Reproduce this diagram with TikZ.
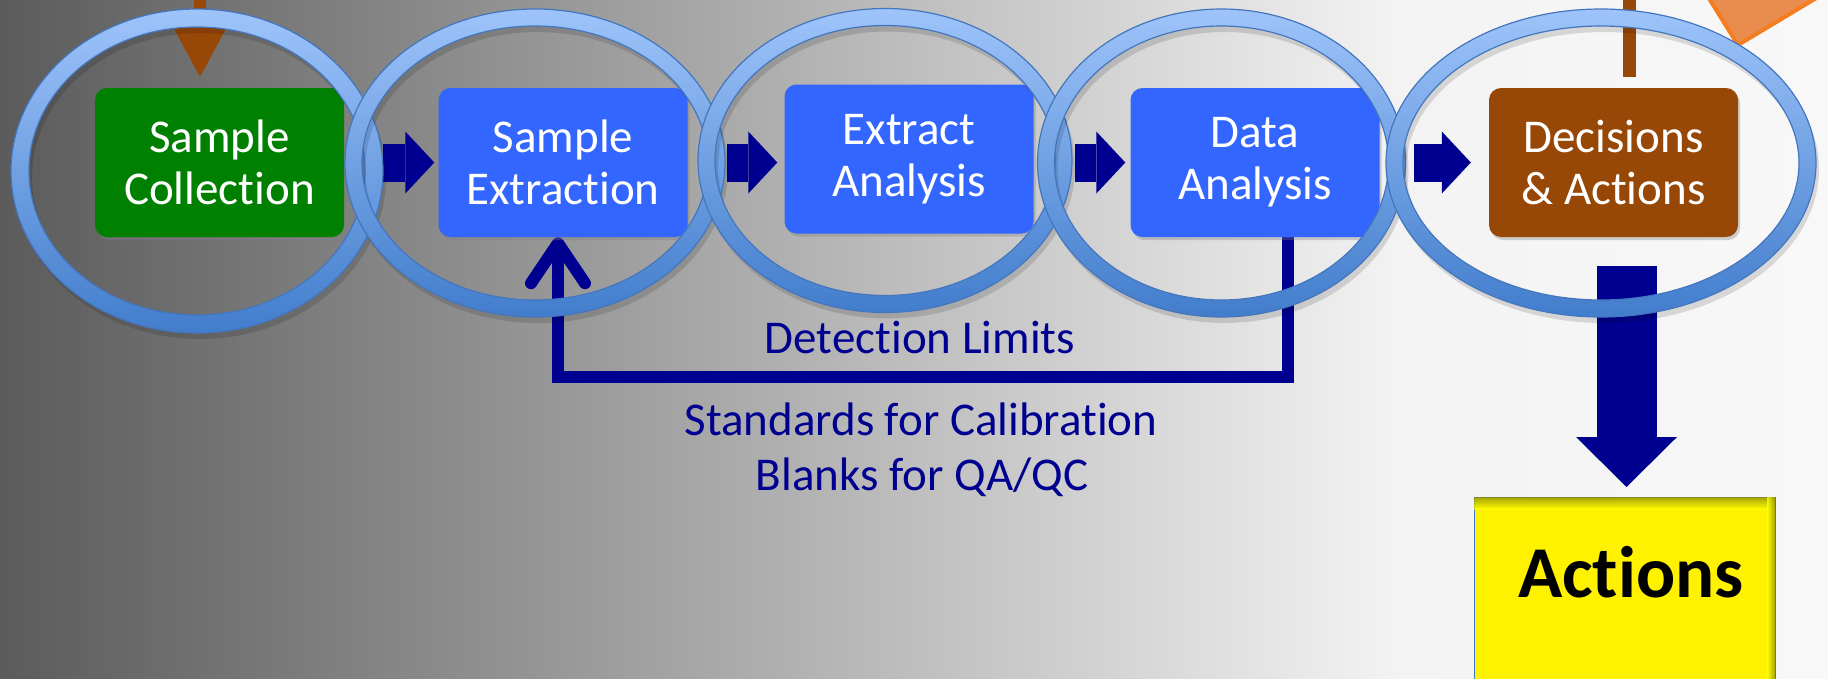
\documentclass[tikz,border=0pt]{standalone}
\usepackage{fontspec}
\setmainfont{Carlito}[Ligatures={NoCommon}]
\usepackage{tikz}
\usetikzlibrary{arrows.meta,shadows}
\pgfdeclarelayer{background}
\pgfdeclarelayer{foreground}
\pgfsetlayers{background,main,foreground}

\definecolor{navyflow}{RGB}{0,0,144}
\definecolor{boxgreen}{RGB}{0,128,0}
\definecolor{boxblue}{RGB}{51,102,255}
\definecolor{boxbrown}{RGB}{152,72,6}
\definecolor{ringtop}{RGB}{158,196,250}
\definecolor{ringbot}{RGB}{66,125,204}
\definecolor{ringedge}{RGB}{68,118,190}
\definecolor{tagfill}{RGB}{233,141,79}
\definecolor{tagedge}{RGB}{245,125,32}
\definecolor{bgdark}{RGB}{91,91,91}
\definecolor{bgmid}{RGB}{243,243,243}
\definecolor{bgright}{RGB}{248,248,248}
\definecolor{actshade}{RGB}{150,150,0}

% #1,#2 centre, #3,#4 outer radii, #5 band width
\newcommand{\loopring}[5]{%
  \fill[black,opacity=.13,even odd rule,xshift=3pt,yshift=-6pt]
    (#1,#2) ellipse[x radius=#3pt,y radius=#4pt]
    (#1,#2) ellipse[x radius=#3pt-#5pt,y radius=#4pt-#5pt];
  \shade[top color=ringtop,bottom color=ringbot,even odd rule]
    (#1,#2) ellipse[x radius=#3pt,y radius=#4pt]
    (#1,#2) ellipse[x radius=#3pt-#5pt,y radius=#4pt-#5pt];
  \draw[ringedge,line width=1.2pt]
    (#1,#2) ellipse[x radius=#3pt,y radius=#4pt]
    (#1,#2) ellipse[x radius=#3pt-#5pt,y radius=#4pt-#5pt];
}

\begin{document}
\begin{tikzpicture}[x=1pt,y=-1pt,
  stage/.style={rounded corners=12pt,minimum width=249pt,minimum height=149pt,
    align=center,text=white,font=\fontsize{47}{52}\selectfont,
    drop shadow={shadow xshift=2pt,shadow yshift=-3pt,opacity=.35}},
  flow/.style={navyflow,line width=38pt,-{Triangle[length=29pt,width=62pt,line width=0pt]}},
  feedback/.style={navyflow,line width=12pt,-{Straight Barb[length=40pt,width=54pt,round]}},
  note/.style={text=navyflow,anchor=base,font=\fontsize{47}{52}\selectfont}]
  \useasboundingbox (0,0) rectangle (1828,678);
  \clip (0,0) rectangle (1828,678);

  \begin{pgfonlayer}{background}
    \shade[left color=bgdark,right color=bgmid] (0,0) rectangle (1400,678);
    \shade[left color=bgmid,right color=bgright] (1399,0) rectangle (1828,678);
    \fill[tagfill,draw=tagedge,line width=4pt]
      (1738,45) -- (1682,-45) -- (1888,-45) -- cycle;
  \end{pgfonlayer}

  \node[stage,fill=boxgreen] (sc) at (219.5,162.5) {Sample\\Collection};
  \node[stage,fill=boxblue] (se) at (563,162.5) {Sample\\Extraction};
  \node[stage,fill=boxblue] (ea) at (909,159) {Extract\\Analysis};
  \node[stage,fill=boxblue] (da) at (1255,162.5) {Data\\Analysis};
  \node[stage,fill=boxbrown] (dec) at (1613.5,162.5) {Decisions\\\& Actions};

  \node[draw=ringedge,fill=yellow,anchor=north,minimum width=301pt,
    inner sep=0pt,text height=100pt,text depth=140pt,
    font=\bfseries\fontsize{73}{80}\selectfont] (act) at (1624.5,497) {\hspace*{13pt}Actions};
  \shade[top color=actshade,bottom color=yellow,opacity=.8]
    ([xshift=.6pt,yshift=-.6pt]act.north west) rectangle ([xshift=-.6pt,yshift=-12pt]act.north east);
  \shade[left color=yellow,right color=actshade,opacity=.8]
    ([xshift=-8pt,yshift=-.6pt]act.north east) rectangle ([xshift=-.6pt]act.south east);

  \coordinate (intop) at (200,-5);
  \coordinate (outtop) at (1629.5,-5);
  \draw[boxbrown,line width=12pt,-{Triangle[length=49pt,width=53pt,line width=0pt]}]
    (intop) to ([xshift=-19.5pt,yshift=11pt]sc.north);
  \draw[boxbrown,line width=13pt] (outtop) to ([xshift=16pt,yshift=11pt]dec.north);

  \draw[flow] ([xshift=39pt]sc.east) to ([xshift=-4pt]se.west);
  \draw[flow] ([xshift=39.5pt]se.east) to ([xshift=-7pt]se.east -| ea.west);
  \draw[flow] ([xshift=41pt]ea.east |- da.west) to ([xshift=-5pt]da.west);
  \draw[flow] ([xshift=34.5pt]da.east) to ([xshift=-18pt]dec.west);

  \begin{pgfonlayer}{background}
    \draw[feedback] ([xshift=33pt]da.south) |- ([xshift=-5pt,yshift=-140pt]se.south)
      to ([xshift=-5pt]se.south);
  \end{pgfonlayer}
  \draw[navyflow,line width=60pt,-{Triangle[length=50pt,width=101pt,line width=0pt]}]
    ([xshift=13pt,yshift=-29pt]dec.south) to ([xshift=2pt,yshift=10pt]act.north);

  \node[note] (dl) at (920,353) {Detection Limits};
  \node[note] (std) at (921,435) {Standards for Calibration};
  \node[note] (blk) at (922,490) {Blanks for QA/QC};

  \begin{pgfonlayer}{foreground}
    \loopring{197}{171}{186}{162}{18}
    \loopring{535}{163}{190}{154}{17}
    \loopring{885}{160.5}{187}{152}{17}
    \loopring{1221.5}{163}{184}{154}{17}
    \loopring{1601}{163}{215}{154}{17}
  \end{pgfonlayer}
\end{tikzpicture}
\end{document}
